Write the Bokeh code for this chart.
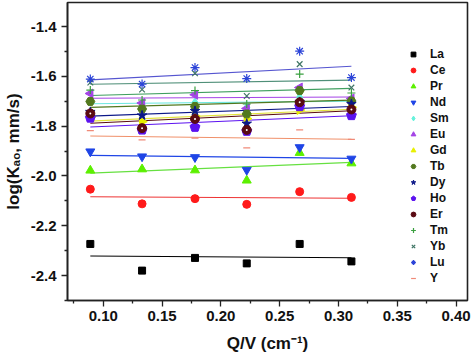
import numpy as np
from bokeh.plotting import figure
from bokeh.models import (FixedTicker, PrintfTickFormatter, Legend, LegendItem, Range1d)
from bokeh.embed import file_html
from bokeh.resources import INLINE

# ---- data ----
qv = [0.089, 0.133, 0.178, 0.222, 0.267, 0.311]

La = [-2.273, -2.380, -2.329, -2.351, -2.273, -2.343]
Ce = [-2.053, -2.112, -2.091, -2.114, -2.063, -2.086]
Pr = [-1.978, -1.973, -1.977, -2.018, -1.907, -1.949]
Nd = [-1.902, -1.922, -1.925, -1.976, -1.885, -1.931]
Sm = [-1.700, -1.715, -1.705, -1.725, -1.684, -1.700]
Eu = [-1.669, -1.707, -1.674, -1.729, -1.645, -1.689]
Gd = [-1.765, -1.782, -1.760, -1.770, -1.735, -1.724]
Tb = [-1.701, -1.731, -1.721, -1.751, -1.657, -1.699]
Dy = [-1.743, -1.757, -1.739, -1.790, -1.703, -1.711]
Ho = [-1.767, -1.815, -1.804, -1.820, -1.721, -1.757]
Er = [-1.749, -1.808, -1.771, -1.815, -1.704, -1.733]
Tm = [-1.655, -1.695, -1.657, -1.711, -1.591, -1.667]
Yb = [-1.625, -1.653, -1.588, -1.679, -1.551, -1.645]
Lu = [-1.611, -1.631, -1.565, -1.609, -1.499, -1.605]
Yv = [-1.818, -1.855, -1.848, -1.887, -1.815, -1.853]

names = ["La", "Ce", "Pr", "Nd", "Sm", "Eu", "Gd", "Tb", "Dy", "Ho", "Er", "Tm", "Yb", "Lu", "Y"]
series = [La, Ce, Pr, Nd, Sm, Eu, Gd, Tb, Dy, Ho, Er, Tm, Yb, Lu, Yv]

x_ticks = [0.10, 0.15, 0.20, 0.25, 0.30, 0.35, 0.40]
x_minor = [0.075, 0.125, 0.175, 0.225, 0.275, 0.325, 0.375]
y_ticks = [-2.4, -2.2, -2.0, -1.8, -1.6, -1.4]
y_minor = [-2.5, -2.3, -2.1, -1.9, -1.7, -1.5, -1.3]

x_title = "Q/V (cm\u207b\u00b9)"
y_title = "log(K\u2090\u2092, mm/s)"

# ---- styles ----
colors = {"La": "#000000", "Ce": "#ff1a1a", "Pr": "#5cf000", "Nd": "#1f45e6",
          "Sm": "#66f2dc", "Eu": "#a444e6", "Gd": "#e8f000", "Tb": "#52781e",
          "Dy": "#0c1888", "Ho": "#5c12f0", "Er": "#5a0a12", "Tm": "#3aa040",
          "Yb": "#3f7565", "Lu": "#2c44d8", "Y": "#f08a78"}
line_colors = dict(colors)
line_colors.update({"Lu": "#5555d0", "Yb": "#4f8f78", "Tm": "#3f9f5f", "Gd": "#e4e43a",
                    "Sm": "#6ee8e0", "Y": "#f0906a", "Pr": "#66e040", "Ce": "#ee3333"})
markers = {"La": "square", "Ce": "circle", "Pr": "triangle", "Nd": "inverted_triangle",
           "Sm": "diamond", "Eu": "triangle", "Gd": "triangle", "Tb": "hex",
           "Dy": "star", "Ho": "ngon", "Er": "circle", "Tm": "cross", "Yb": "x",
           "Lu": "asterisk", "Y": "dash"}
angles = {"Eu": np.pi / 2, "Gd": -np.pi / 2}
sizes = {"La": 7, "Ce": 8, "Pr": 9, "Nd": 9, "Sm": 9, "Eu": 9, "Gd": 9, "Tb": 9,
         "Dy": 10, "Er": 9, "Tm": 8, "Yb": 8, "Lu": 9, "Y": 7}
line_only = {"Tm", "Yb", "Lu", "Y"}

FONT = "Liberation Sans"

p = figure(width=474, height=360, output_backend="svg", toolbar_location=None,
           x_range=Range1d(0.0696, 0.4097), y_range=Range1d(-2.5, -1.3036),
           min_border_left=64, min_border_right=7, min_border_top=2, min_border_bottom=60)
p.grid.visible = False
p.background_fill_color = "white"
p.outline_line_color = "#222222"
p.outline_line_width = 1.6

for ax, tk, mn, fmt in ((p.xaxis[0], x_ticks, x_minor, "%.2f"), (p.yaxis[0], y_ticks, y_minor, "%.1f")):
    ax.ticker = FixedTicker(ticks=tk, minor_ticks=mn)
    ax.formatter = PrintfTickFormatter(format=fmt)
    ax.axis_line_color = "#222222"
    ax.axis_line_width = 1.6
    ax.major_tick_line_color = "#222222"
    ax.minor_tick_line_color = "#222222"
    ax.major_tick_line_width = 1.3
    ax.minor_tick_line_width = 1.3
    ax.major_tick_in = 0
    ax.minor_tick_in = 0
    ax.major_tick_out = 6
    ax.minor_tick_out = 3
    ax.major_label_text_font = FONT
    ax.major_label_text_font_style = "bold"
    ax.major_label_text_font_size = "15px"
    ax.major_label_text_color = "#111111"
    ax.axis_label_text_font = FONT
    ax.axis_label_text_font_style = "bold"
    ax.axis_label_text_font_size = "17px"
    ax.axis_label_text_color = "#111111"
p.xaxis[0].major_label_standoff = 4
p.yaxis[0].major_label_standoff = 5
p.xaxis[0].axis_label = x_title
p.yaxis[0].axis_label = y_title
p.xaxis[0].axis_label_standoff = 10
p.yaxis[0].axis_label_standoff = 5

items = []
xa = np.array(qv)
for name, ys in zip(names, series):
    ya = np.array(ys)
    m, b = np.polyfit(xa, ya, 1)
    xl = [xa[0], xa[-1]]
    p.line(xl, [m * xa[0] + b, m * xa[-1] + b], line_color=line_colors[name], line_width=1.1)

for name, ys in zip(names, series):
    c = colors[name]
    if markers[name] == "ngon":
        r = p.ngon(x=qv, y=ys, radius=5.2, radius_units="screen", n=5, fill_color=c,
                   line_color=c, angle=0)
    elif name in line_only:
        r = p.scatter(x=qv, y=ys, marker=markers[name], size=sizes[name], line_color=c,
                      line_width=1.2, fill_color=None)
    else:
        r = p.scatter(x=qv, y=ys, marker=markers[name], size=sizes[name], fill_color=c,
                      line_color=c, angle=angles.get(name, 0.0))
        if name == "Er":
            p.scatter(x=qv, y=ys, marker="circle", size=2, fill_color="white",
                      line_color=None)
    items.append(LegendItem(label=name, renderers=[r]))

legend = Legend(items=items, location=(340, 15), border_line_color=None,
                background_fill_alpha=0, glyph_width=12, glyph_height=14,
                label_height=14, label_standoff=11, spacing=2, padding=5, margin=0,
                label_text_font=FONT, label_text_font_style="bold",
                label_text_font_size="12px", label_text_color="#111111")
p.add_layout(legend, "center")

open("out.html", "w").write(file_html(p, INLINE))
